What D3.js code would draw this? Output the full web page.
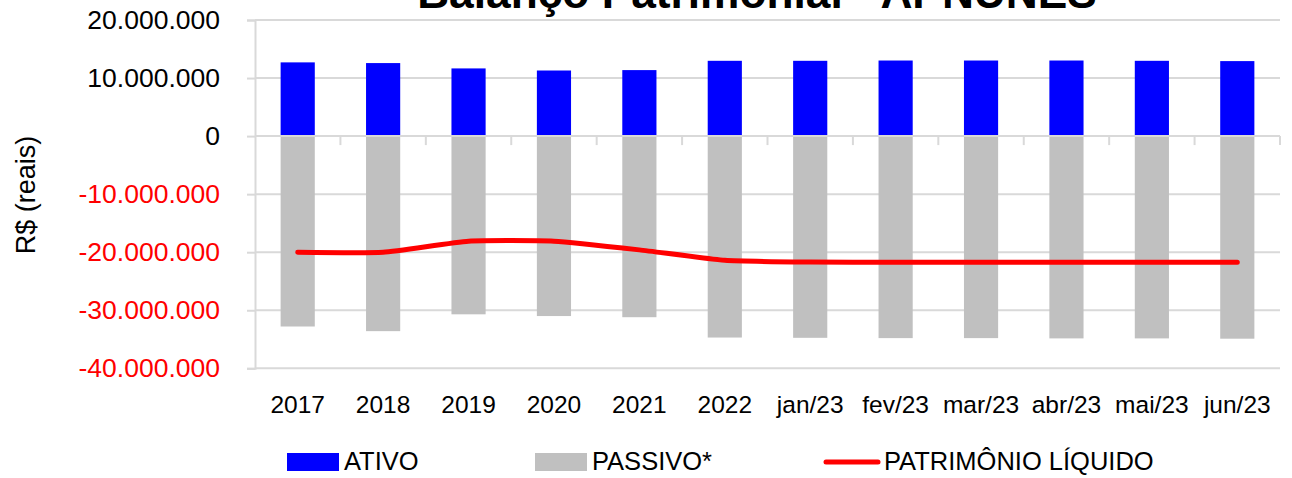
<!DOCTYPE html>
<meta charset="utf-8">
<style>
  body { margin: 0; background: #fff; }
  text { font-family: "Liberation Sans", Arial, sans-serif; }
  .grid line { stroke: #d9d9d9; stroke-width: 2px; }
</style>
<body>
<script src="https://d3js.org/d3.v7.min.js"></script>
<script>
// chart data
var categories = ["2017", "2018", "2019", "2020", "2021", "2022",
  "jan/23", "fev/23", "mar/23", "abr/23", "mai/23", "jun/23"];
var ativo = [12.7e6, 12.58e6, 11.66e6, 11.3e6, 11.37e6, 12.97e6,
  12.97e6, 13.02e6, 13.02e6, 13.02e6, 12.97e6, 12.92e6];
var passivo = [-32.8e6, -33.6e6, -30.7e6, -31.0e6, -31.2e6, -34.7e6,
  -34.75e6, -34.8e6, -34.8e6, -34.85e6, -34.85e6, -34.9e6];
var patrimonio = [-20.0e6, -20.0e6, -18.1e6, -18.1e6, -19.6e6, -21.4e6,
  -21.7e6, -21.75e6, -21.75e6, -21.75e6, -21.75e6, -21.75e6];
var yTicks = [20e6, 10e6, 0, -10e6, -20e6, -30e6, -40e6];
var legendLabels = ["ATIVO", "PASSIVO*", "PATRIMÔNIO LÍQUIDO"];
var title = "Balanço Patrimonial - APNUNES";

var W = 1292, H = 478;
var plotL = 255, plotR = 1280, plotT = 20, plotB = 368.3;

var svg = d3.select("body").append("svg")
  .attr("width", W).attr("height", H);

var x = d3.scaleBand().domain(categories)
  .range([plotL, plotR]).paddingInner(0.6).paddingOuter(0.3);
var y = d3.scaleLinear().domain([-40e6, 20e6]).range([plotB, plotT]);

var br = d3.formatLocale({ decimal: ",", thousands: ".", grouping: [3],
  currency: ["R$", ""], minus: "-" });
var fmt = br.format(",.0f");

// horizontal gridlines
svg.append("g").attr("class", "grid")
  .selectAll("line").data(yTicks.filter(function(d) { return d !== 0; }))
  .enter().append("line")
  .attr("x1", plotL).attr("x2", plotR)
  .attr("y1", function(d) { return y(d); })
  .attr("y2", function(d) { return y(d); });

// y axis
var yAxis = svg.append("g")
  .attr("transform", "translate(" + plotL + ",0)")
  .call(d3.axisLeft(y).tickValues(yTicks).tickFormat(fmt).tickSize(8).tickPadding(27));
yAxis.select(".domain").attr("stroke", "#d9d9d9").attr("stroke-width", 2);
yAxis.selectAll(".tick line").attr("stroke", "#d9d9d9").attr("stroke-width", 2);
yAxis.selectAll(".tick text")
  .attr("font-family", "Liberation Sans, Arial, sans-serif")
  .attr("font-size", 26.5)
  .attr("fill", function(d) { return d < 0 ? "#ff0000" : "#000"; });

// bars
svg.append("g").selectAll("rect").data(categories).enter().append("rect")
  .attr("x", function(d) { return x(d); })
  .attr("width", x.bandwidth())
  .attr("y", function(d, i) { return y(ativo[i]); })
  .attr("height", function(d, i) { return y(0) - y(ativo[i]); })
  .attr("fill", "#0000ff");

svg.append("g").selectAll("rect").data(categories).enter().append("rect")
  .attr("x", function(d) { return x(d); })
  .attr("width", x.bandwidth())
  .attr("y", y(0))
  .attr("height", function(d, i) { return y(passivo[i]) - y(0); })
  .attr("fill", "#c0c0c0");

// x axis on the zero line, ticks between categories
var step = x.step();
var xAxis = svg.append("g");
xAxis.append("line")
  .attr("x1", plotL).attr("x2", plotR)
  .attr("y1", y(0)).attr("y2", y(0))
  .attr("stroke", "#d9d9d9").attr("stroke-width", 2);
xAxis.selectAll(".tk").data(categories).enter().append("line")
  .attr("x1", function(d) { return x(d) - x.paddingOuter() * step + step; })
  .attr("x2", function(d) { return x(d) - x.paddingOuter() * step + step; })
  .attr("y1", y(0)).attr("y2", y(0) + 9)
  .attr("stroke", "#d9d9d9").attr("stroke-width", 2);

svg.append("g").selectAll("text").data(categories).enter().append("text")
  .attr("x", function(d) { return x(d) + x.bandwidth() / 2; })
  .attr("y", 413)
  .attr("text-anchor", "middle")
  .attr("font-size", 24.5)
  .text(function(d) { return d; });

// patrimonio liquido line (lightly smoothed)
var line = d3.line()
  .x(function(d, i) { return x(categories[i]) + x.bandwidth() / 2; })
  .y(function(d) { return y(d); })
  .curve(d3.curveCardinal.tension(0.5));
svg.append("path").datum(patrimonio)
  .attr("d", line)
  .attr("fill", "none")
  .attr("stroke", "#ff0000")
  .attr("stroke-width", 5)
  .attr("stroke-linecap", "round");

// y axis title
svg.append("text")
  .attr("transform", "translate(35,195) rotate(-90)")
  .attr("text-anchor", "middle")
  .attr("font-size", 27)
  .text("R$ (reais)");

// title, mostly cut off at the top
var t = svg.append("text")
  .attr("x", 757).attr("y", 8)
  .attr("text-anchor", "middle")
  .attr("font-weight", "bold")
  .attr("font-size", 40)
  .text(title);
var tw = t.node().getComputedTextLength();
t.attr("font-size", 40 * 680 / tw);

// legend
var legendX = [287, 535, 824];
var lg = svg.append("g").selectAll("g").data(legendLabels).enter().append("g")
  .attr("transform", function(d, i) { return "translate(" + legendX[i] + ",453)"; });
lg.filter(function(d, i) { return i < 2; }).append("rect")
  .attr("width", 52).attr("height", 18)
  .attr("fill", function(d, i) { return i === 0 ? "#0000ff" : "#c0c0c0"; });
lg.filter(function(d, i) { return i === 2; }).append("line")
  .attr("x1", 2).attr("x2", 54).attr("y1", 9).attr("y2", 9)
  .attr("stroke", "#ff0000").attr("stroke-width", 5)
  .attr("stroke-linecap", "round");
lg.append("text")
  .attr("x", function(d, i) { return i === 2 ? 60 : 57; })
  .attr("y", 17)
  .attr("font-size", 25.5)
  .text(function(d) { return d; });
</script>
</body>
